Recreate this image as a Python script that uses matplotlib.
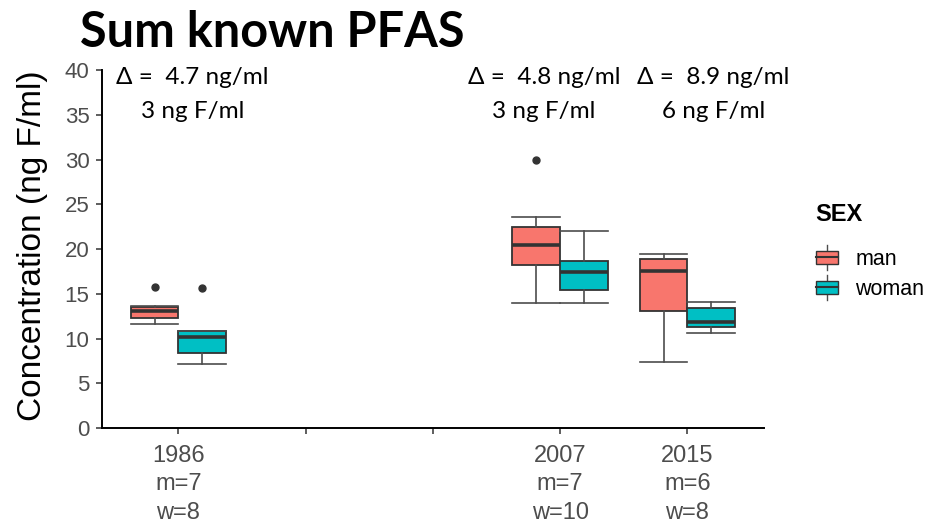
import matplotlib
matplotlib.use("Agg")
import matplotlib.pyplot as plt
from matplotlib.patches import Rectangle
from matplotlib.lines import Line2D
from matplotlib.legend_handler import HandlerBase

# categories on the x axis (two empty slots between 1986 and 2007)
positions = [1, 2, 3, 4, 5]
tick_labels = ["1986\nm=7\nw=8", "", "", "2007\nm=7\nw=10", "2015\nm=6\nw=8"]
data_pos = [1, 4, 5]

# box statistics
man_lo = [11.6, 14.0, 7.4]
man_q1 = [12.3, 18.2, 13.1]
man_med = [13.1, 20.5, 17.5]
man_q3 = [13.5, 22.5, 18.9]
man_hi = [13.6, 23.6, 19.5]
man_out = [[15.8], [30.0], []]

woman_lo = [7.1, 14.0, 10.6]
woman_q1 = [8.4, 15.4, 11.3]
woman_med = [10.2, 17.4, 11.9]
woman_q3 = [10.8, 18.7, 13.4]
woman_hi = [10.8, 22.0, 14.1]
woman_out = [[15.6], [], []]

annotations = ["\u0394 =  4.7 ng/ml\n3 ng F/ml",
               "\u0394 =  4.8 ng/ml\n3 ng F/ml",
               "\u0394 =  8.9 ng/ml\n6 ng F/ml"]

MAN_COL = "#F8766D"
WOMAN_COL = "#00BFC4"
EDGE = "#333333"
GREY = "#4D4D4D"


def make_stats(lo, q1, med, q3, hi, out):
    stats = []
    for i in range(len(lo)):
        stats.append(dict(whislo=lo[i], q1=q1[i], med=med[i], q3=q3[i],
                          whishi=hi[i], fliers=out[i]))
    return stats


def draw_boxes(ax, stats, pos, color):
    w = 0.375
    ax.bxp(stats, positions=pos, widths=w, capwidths=w, patch_artist=True,
           showfliers=True, manage_ticks=False,
           boxprops=dict(facecolor=color, edgecolor=EDGE, linewidth=1.3),
           medianprops=dict(color=EDGE, linewidth=2.6),
           whiskerprops=dict(color=GREY, linewidth=1.2),
           capprops=dict(color=GREY, linewidth=1.2),
           flierprops=dict(marker="o", markersize=5, markerfacecolor=EDGE,
                           markeredgecolor=EDGE))


# little boxplot glyph for the legend keys
class BoxKey(HandlerBase):
    def create_artists(self, legend, orig_handle, xdescent, ydescent,
                       width, height, fontsize, trans):
        x0, y0 = -xdescent, -ydescent
        cx = x0 + width / 2
        col = orig_handle.get_facecolor()
        box = Rectangle((x0, y0 + 0.02 * height), width, 0.96 * height,
                        facecolor=col, edgecolor=EDGE, lw=1.0, transform=trans)
        med = Line2D([x0, x0 + width], [y0 + 0.5 * height] * 2,
                     color=EDGE, lw=1.5, transform=trans)
        w1 = Line2D([cx, cx], [y0 - 0.4 * height, y0 + 0.02 * height],
                    color=GREY, lw=1.0, transform=trans)
        w2 = Line2D([cx, cx], [y0 + 0.98 * height, y0 + 1.4 * height],
                    color=GREY, lw=1.0, transform=trans)
        return [w1, w2, box, med]


fig = plt.figure(figsize=(9.3, 5.23), dpi=100)
ax = fig.add_axes([0.1097, 0.1816, 0.7115, 0.6845])

draw_boxes(ax, make_stats(man_lo, man_q1, man_med, man_q3, man_hi, man_out),
           [p - 0.1875 for p in data_pos], MAN_COL)
draw_boxes(ax, make_stats(woman_lo, woman_q1, woman_med, woman_q3, woman_hi, woman_out),
           [p + 0.1875 for p in data_pos], WOMAN_COL)

ax.set_xlim(0.4, 5.6)
ax.set_ylim(0, 40)
ax.set_xticks(positions)
ax.set_xticklabels(tick_labels, fontsize=17, color=GREY,
                   family="Liberation Sans", linespacing=1.4)
ax.set_yticks(range(0, 41, 5))
ax.set_yticklabels([str(v) for v in range(0, 41, 5)], fontsize=16,
                   color=GREY, family="Liberation Sans")
ax.tick_params(axis="both", length=4, width=1.1, color=EDGE)
ax.tick_params(axis="x", pad=8)
ax.tick_params(axis="y", pad=5)
for s in ["top", "right"]:
    ax.spines[s].set_visible(False)
for s in ["left", "bottom"]:
    ax.spines[s].set_linewidth(1.4)
    ax.spines[s].set_color("black")

ax.set_ylabel("Concentration (ng F/ml)", fontsize=24, family="Liberation Sans")
ax.yaxis.set_label_coords(-0.082, 0.51)

fig.text(0.086, 0.938, "Sum known PFAS", fontsize=35, fontweight="bold",
         family="Lato", va="center", ha="left")

ann_x = [0.207, 0.585, 0.767]
for x, txt in zip(ann_x, annotations):
    fig.text(x, 0.871, txt, fontsize=17.5, family="Lato", ha="center",
             va="top", linespacing=1.75)

fig.text(0.8765, 0.589, "SEX", fontsize=17, fontweight="bold",
         family="Liberation Sans", va="center", ha="left")
handles = [Rectangle((0, 0), 1, 1, facecolor=MAN_COL),
           Rectangle((0, 0), 1, 1, facecolor=WOMAN_COL)]
leg = fig.legend(handles, ["man", "woman"],
                 handler_map={Rectangle: BoxKey()},
                 loc="upper left", bbox_to_anchor=(0.877, 0.524),
                 frameon=False, handlelength=1.05,
                 handleheight=0.62, handletextpad=0.8, labelspacing=0.42,
                 borderpad=0, borderaxespad=0,
                 prop=dict(family="Liberation Sans", size=15.5))

fig.savefig("out.png", dpi=100)
